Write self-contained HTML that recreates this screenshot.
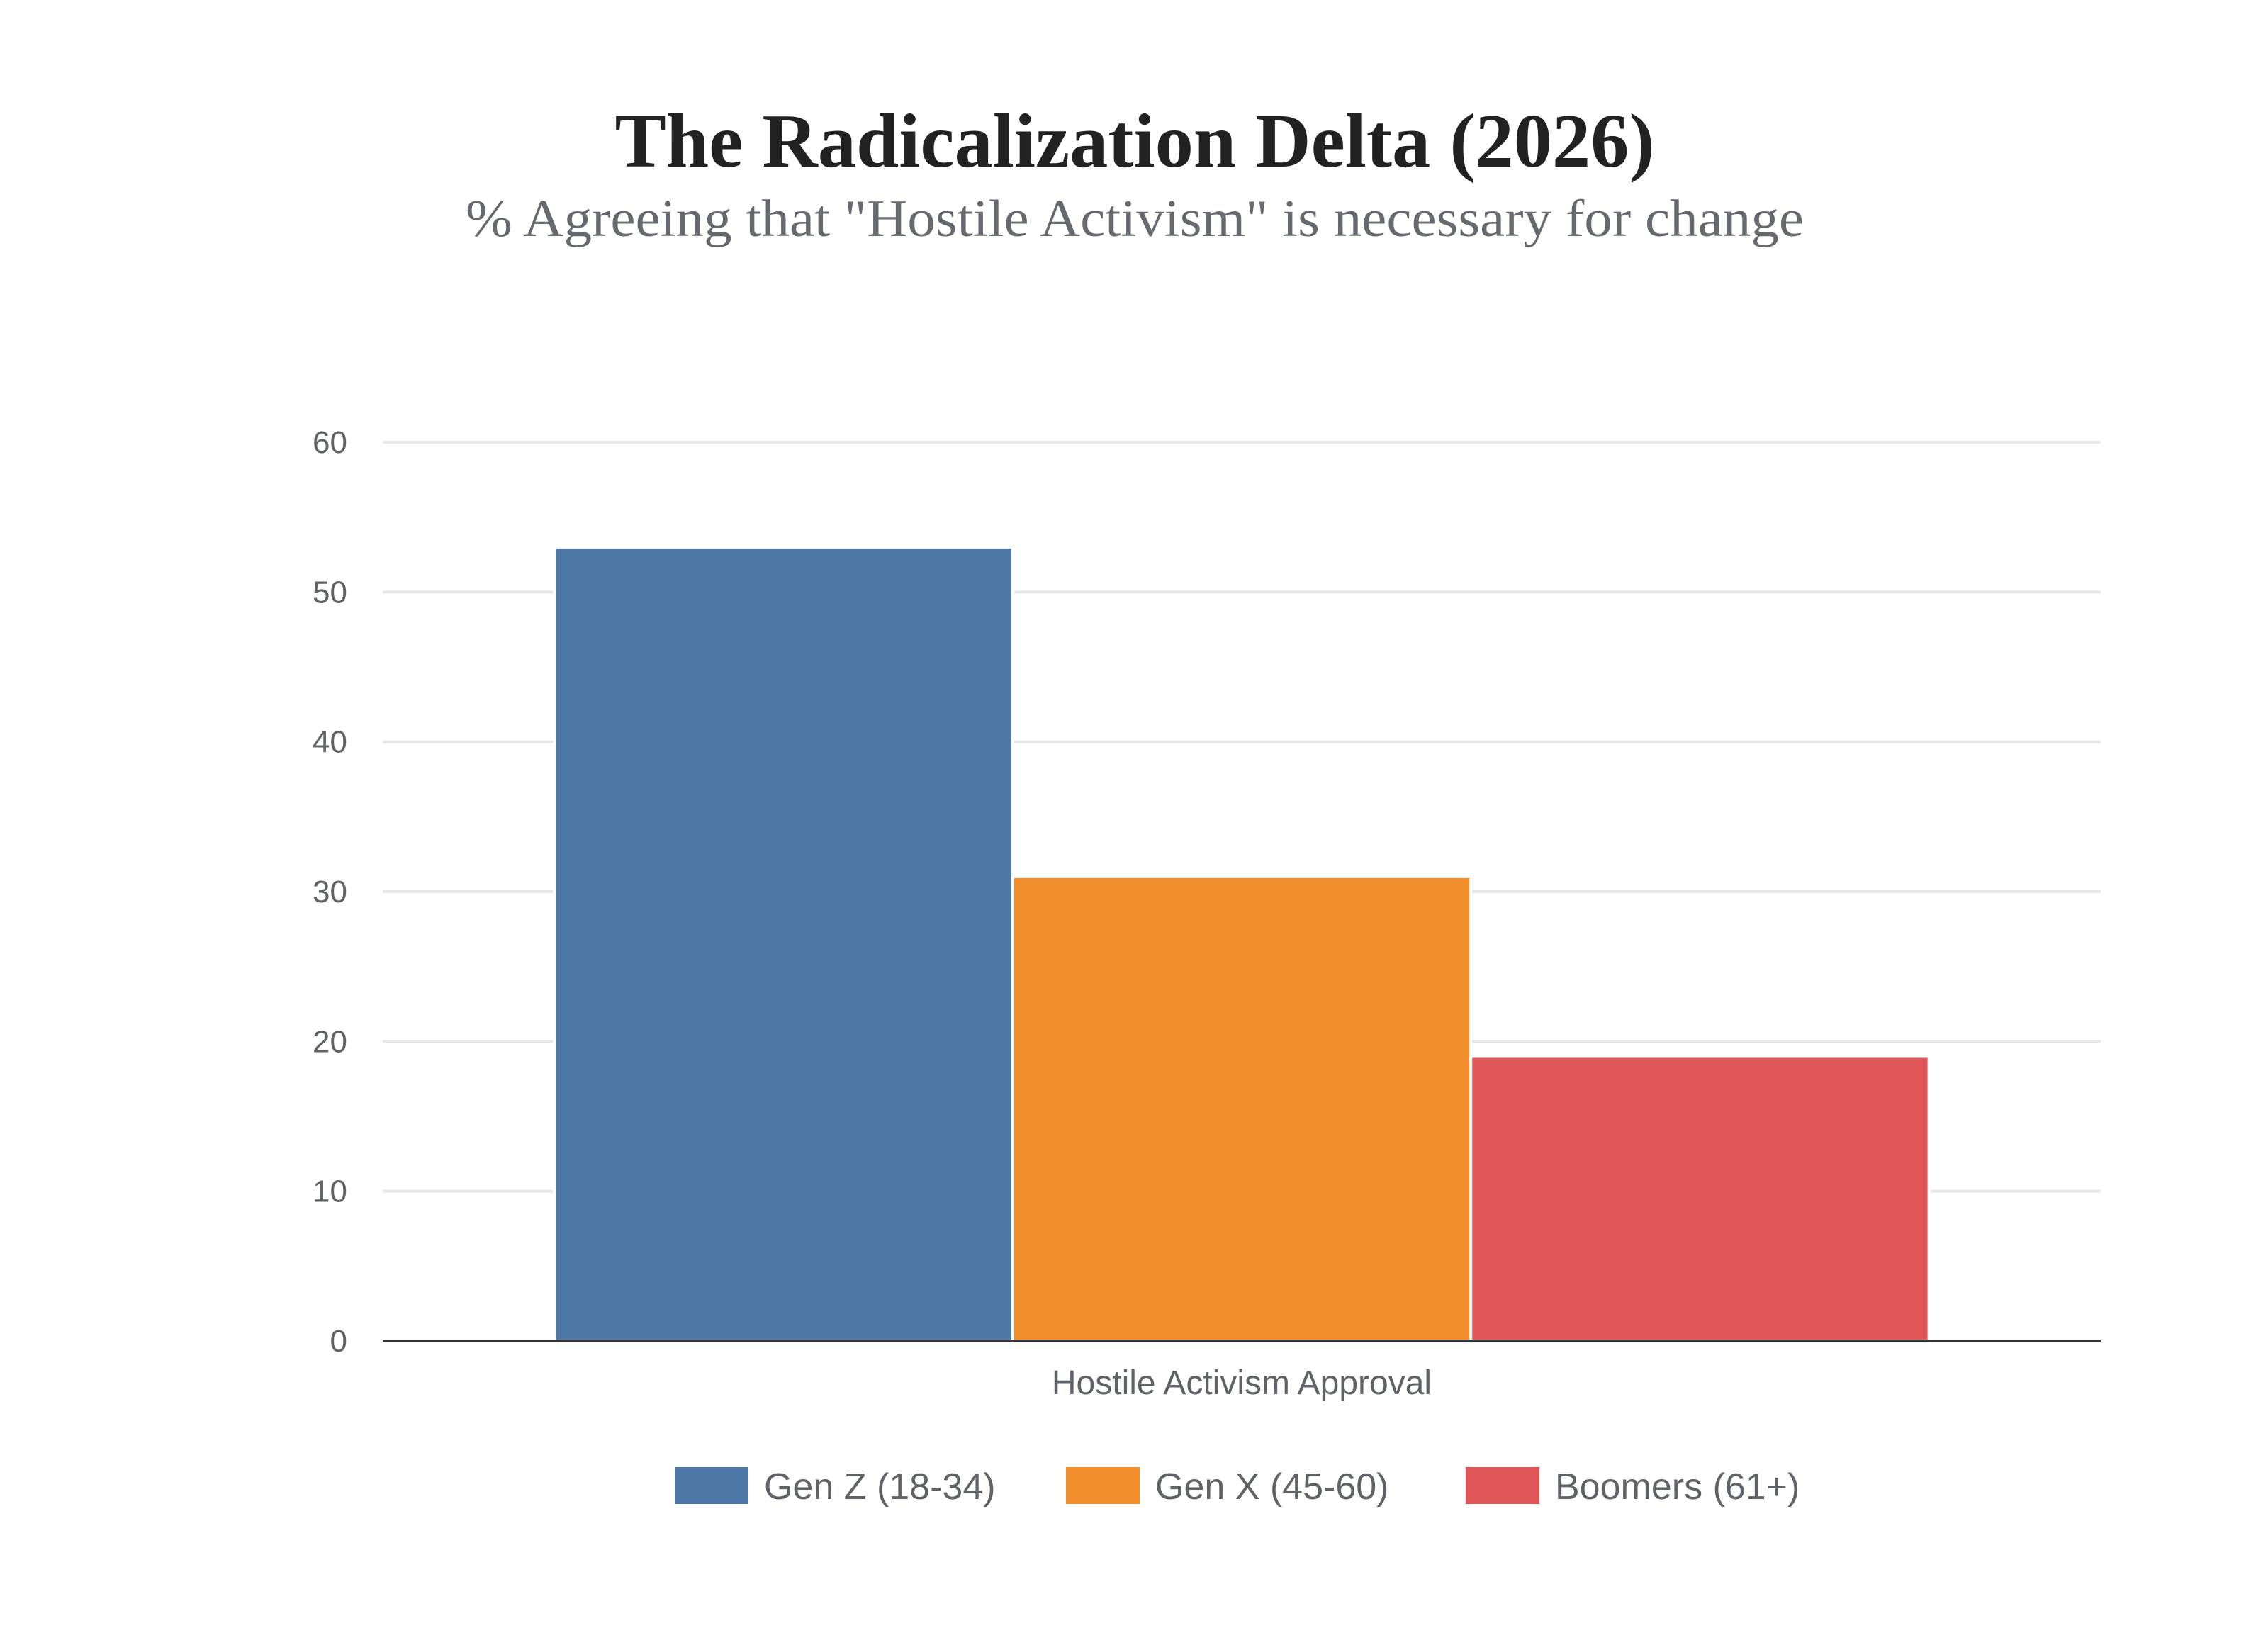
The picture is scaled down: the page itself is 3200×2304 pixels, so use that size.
<!DOCTYPE html>
<html><head><meta charset="utf-8"><style>
html,body{margin:0;padding:0;background:#fff;}
svg{display:block;}
</style></head><body>
<svg id="chart" width="3200" height="2304" viewBox="0 0 3200 2304" xmlns="http://www.w3.org/2000/svg">
<rect width="3200" height="2304" fill="#fff"/>
<text x="1601" y="235" text-anchor="middle" font-family="'Liberation Serif', serif" font-weight="bold" font-size="108" fill="#222" textLength="1467" lengthAdjust="spacingAndGlyphs">The Radicalization Delta (2026)</text>
<text x="1601" y="333" text-anchor="middle" font-family="'Liberation Serif', serif" font-size="74" fill="#666a70" textLength="1888" lengthAdjust="spacingAndGlyphs">% Agreeing that "Hostile Activism" is necessary for change</text>
<g id="grid"></g>
<g id="bars"></g>
<g id="axes"></g>
<g id="legend"></g>
</svg>
<script>
const categories = ["Hostile Activism Approval"];
const seriesNames = ["Gen Z (18-34)", "Gen X (45-60)", "Boomers (61+)"];
const seriesValues = [53, 31, 19];
const seriesColors = ["#4e79a7", "#f28e2c", "#e15759"];
const yTicks = [0, 10, 20, 30, 40, 50, 60];

const NS = "http://www.w3.org/2000/svg";
const plot = {left: 540, right: 2964, top: 624, bottom: 1892};
const yMax = 60;
function y(v){ return plot.bottom - (v / yMax) * (plot.bottom - plot.top); }
function mk(tag, attrs, parent){ const e = document.createElementNS(NS, tag); for (const k in attrs) e.setAttribute(k, attrs[k]); parent.appendChild(e); return e; }

const grid = document.getElementById('grid');
const axes = document.getElementById('axes');
yTicks.forEach(t => {
  if (t !== 0) {
    const l = mk('line', {x1: plot.left, x2: plot.right, y1: y(t), y2: y(t), stroke: '#e6e7ea', 'stroke-width': 4}, grid);
    
    
  }
  const tx = mk('text', {x: 490, y: y(t) + 15, 'text-anchor': 'end', 'font-family': "'Liberation Sans', sans-serif", 'font-size': 44, fill: '#5f6368'}, axes);
  tx.textContent = t;
  
  
});

const bars = document.getElementById('bars');
const bandW = (plot.right - plot.left) / categories.length;
categories.forEach((c, ci) => {
  const groupW = bandW * 0.8;
  const gx = plot.left + ci * bandW + (bandW - groupW) / 2;
  const bw = groupW / seriesValues.length;
  seriesValues.forEach((v, si) => {
    const r = mk('rect', {x: gx + si * bw, y: y(v), width: bw, height: plot.bottom - y(v), fill: seriesColors[si], stroke: '#fff', 'stroke-width': 4}, bars);
    
    
  });
  const lab = mk('text', {x: plot.left + ci * bandW + bandW / 2, y: 1967, 'text-anchor': 'middle', 'font-family': "'Liberation Sans', sans-serif", 'font-size': 48, fill: '#5f6368'}, axes);
  lab.textContent = c;
  
  
});
const ax = mk('line', {x1: plot.left, x2: plot.right, y1: plot.bottom, y2: plot.bottom, stroke: '#333', 'stroke-width': 4}, axes);



const legend = document.getElementById('legend');
const legendX = [952, 1504, 2068];
seriesNames.forEach((n, i) => {
  const g = mk('g', {}, legend);
  
  
  const sw = mk('rect', {x: legendX[i], y: 2070, width: 104, height: 52, fill: seriesColors[i]}, g);
  
  
  const t = mk('text', {x: legendX[i] + 126, y: 2115, 'font-family': "'Liberation Sans', sans-serif", 'font-size': 52, fill: '#5f6368'}, g);
  t.textContent = n;
  
  
});
</script>
</body></html>
